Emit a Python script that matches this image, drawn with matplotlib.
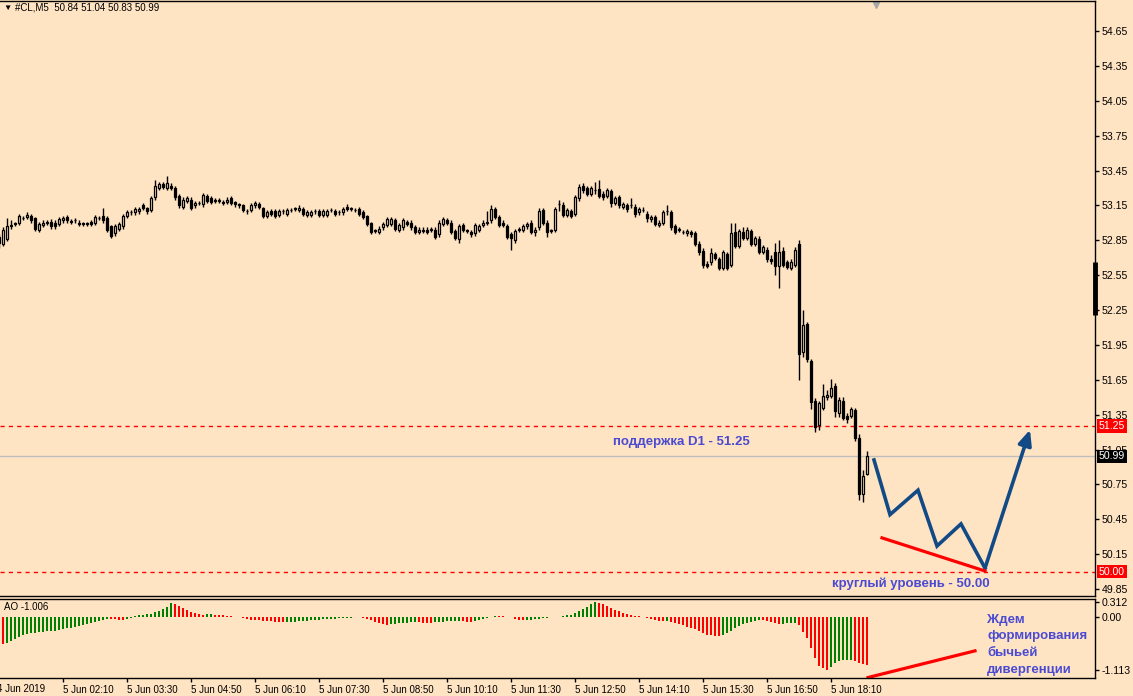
from matplotlib import pyplot as plt
from matplotlib import transforms
import numpy as np

# ---- data (CL, M5, 5 Jun 2019) ----
opens = [
    52.88, 52.82, 52.86, 52.97, 53.00, 53.00, 53.04, 53.05, 53.06, 53.04,
    52.94, 52.98, 53.00, 53.01, 53.00, 52.99, 53.02, 53.05, 53.01, 53.02,
    53.00, 53.00, 53.00, 53.01, 53.00, 53.04, 53.06, 53.04, 52.97, 52.91,
    52.95, 52.97, 53.06, 53.09, 53.09, 53.10, 53.15, 53.13, 53.11, 53.22,
    53.30, 53.33, 53.30, 53.32, 53.30, 53.23, 53.14, 53.19, 53.20, 53.15,
    53.17, 53.16, 53.23, 53.21, 53.19, 53.19, 53.18, 53.18, 53.21, 53.18,
    53.16, 53.15, 53.10, 53.11, 53.15, 53.16, 53.13, 53.06, 53.10, 53.10,
    53.07, 53.10, 53.08, 53.11, 53.12, 53.11, 53.12, 53.07, 53.07, 53.10,
    53.10, 53.07, 53.07, 53.11, 53.10, 53.09, 53.09, 53.14, 53.12, 53.11,
    53.12, 53.09, 53.06, 53.00, 52.93, 52.92, 52.96, 52.98, 52.99, 53.02,
    52.94, 52.96, 53.01, 53.00, 52.96, 52.92, 52.93, 52.94, 52.94, 52.94,
    52.90, 52.99, 53.02, 53.00, 52.93, 52.86, 52.98, 52.93, 52.92, 52.91,
    52.94, 52.98, 53.00, 53.02, 53.12, 53.05, 53.00, 52.97, 52.90, 52.85,
    52.94, 52.94, 52.97, 53.00, 52.92, 52.96, 53.11, 53.00, 52.93, 52.94,
    53.16, 53.15, 53.07, 53.10, 53.08, 53.21, 53.32, 53.30, 53.25, 53.28,
    53.29, 53.25, 53.23, 53.27, 53.17, 53.22, 53.14, 53.15, 53.15, 53.14,
    53.09, 53.11, 53.08, 53.03, 53.05, 52.98, 53.00, 53.10, 53.09, 52.97,
    52.94, 52.92, 52.91, 52.92, 52.91, 52.82, 52.76, 52.65, 52.66, 52.73,
    52.69, 52.61, 52.73, 52.64, 52.92, 52.80, 52.92, 52.87, 52.93, 52.82,
    52.86, 52.75, 52.77, 52.69, 52.75, 52.63, 52.76, 52.66, 52.61, 52.64,
    52.82, 51.89, 52.13, 51.81, 51.47, 51.26, 51.41, 51.50, 51.51, 51.60,
    51.36, 51.47, 51.34, 51.34, 51.39, 51.15, 50.67, 50.84]

closes = [
    52.83, 52.94, 52.97, 52.98, 52.99, 53.06, 53.04, 53.07, 53.02, 52.95,
    52.99, 53.00, 53.00, 52.97, 52.97, 53.03, 53.04, 53.02, 53.01, 53.02,
    52.99, 52.99, 52.99, 52.99, 53.05, 53.04, 53.02, 52.94, 52.89, 52.97,
    52.99, 53.06, 53.09, 53.09, 53.12, 53.12, 53.13, 53.10, 53.21, 53.32,
    53.33, 53.31, 53.34, 53.30, 53.22, 53.15, 53.20, 53.21, 53.13, 53.17,
    53.17, 53.24, 53.19, 53.18, 53.19, 53.19, 53.17, 53.20, 53.17, 53.16,
    53.15, 53.11, 53.10, 53.15, 53.17, 53.14, 53.06, 53.09, 53.08, 53.06,
    53.10, 53.10, 53.11, 53.11, 53.12, 53.13, 53.08, 53.09, 53.09, 53.10,
    53.07, 53.10, 53.10, 53.11, 53.08, 53.09, 53.12, 53.12, 53.12, 53.11,
    53.08, 53.05, 52.99, 52.92, 52.93, 52.95, 52.99, 53.03, 53.03, 52.95,
    52.98, 53.02, 52.99, 52.96, 52.92, 52.94, 52.93, 52.92, 52.94, 52.88,
    53.00, 53.03, 53.00, 52.92, 52.87, 52.97, 52.94, 52.93, 52.90, 52.98,
    52.97, 53.00, 53.00, 53.12, 53.05, 52.98, 52.98, 52.88, 52.87, 52.93,
    52.94, 52.97, 52.99, 52.92, 52.94, 53.10, 53.00, 52.92, 52.93, 53.12,
    53.16, 53.07, 53.11, 53.06, 53.22, 53.31, 53.28, 53.25, 53.30, 53.28,
    53.23, 53.22, 53.28, 53.17, 53.21, 53.15, 53.16, 53.12, 53.15, 53.08,
    53.12, 53.11, 53.04, 53.05, 52.99, 53.00, 53.09, 53.10, 52.96, 52.92,
    52.94, 52.92, 52.93, 52.90, 52.82, 52.75, 52.64, 52.63, 52.74, 52.70,
    52.61, 52.75, 52.61, 52.91, 52.80, 52.93, 52.87, 52.94, 52.82, 52.87,
    52.75, 52.79, 52.69, 52.67, 52.63, 52.75, 52.64, 52.62, 52.66, 52.77,
    51.87, 52.12, 51.83, 51.46, 51.24, 51.45, 51.51, 51.52, 51.58, 51.38,
    51.48, 51.32, 51.31, 51.40, 51.15, 50.67, 50.82, 50.99]

highs = [
    52.90, 52.96, 53.04, 53.02, 53.01, 53.08, 53.06, 53.09, 53.08, 53.05,
    53.01, 53.02, 53.02, 53.03, 53.02, 53.05, 53.06, 53.07, 53.03, 53.04,
    53.02, 53.01, 53.01, 53.02, 53.07, 53.06, 53.125, 53.06, 52.98, 52.99,
    53.01, 53.08, 53.11, 53.11, 53.14, 53.14, 53.17, 53.14, 53.23, 53.37,
    53.35, 53.35, 53.40, 53.34, 53.32, 53.25, 53.22, 53.23, 53.22, 53.19,
    53.19, 53.26, 53.25, 53.23, 53.21, 53.21, 53.20, 53.22, 53.23, 53.19,
    53.17, 53.16, 53.12, 53.17, 53.19, 53.18, 53.14, 53.11, 53.12, 53.12,
    53.12, 53.12, 53.13, 53.13, 53.14, 53.15, 53.14, 53.11, 53.11, 53.12,
    53.12, 53.12, 53.12, 53.13, 53.12, 53.11, 53.14, 53.16, 53.14, 53.13,
    53.14, 53.11, 53.07, 53.01, 52.95, 52.97, 53.01, 53.05, 53.05, 53.04,
    53.00, 53.04, 53.02, 53.02, 52.98, 52.96, 52.96, 52.96, 52.96, 52.96,
    53.02, 53.05, 53.04, 53.02, 52.95, 52.99, 53.00, 52.95, 52.94, 53.00,
    52.99, 53.02, 53.10, 53.15, 53.14, 53.07, 53.02, 52.99, 52.92, 52.95,
    52.96, 52.99, 53.01, 53.02, 52.96, 53.13, 53.13, 53.02, 52.95, 53.14,
    53.20, 53.18, 53.13, 53.12, 53.24, 53.33, 53.34, 53.32, 53.32, 53.35,
    53.37, 53.27, 53.30, 53.29, 53.23, 53.24, 53.18, 53.17, 53.21, 53.16,
    53.14, 53.14, 53.10, 53.07, 53.07, 53.02, 53.11, 53.15, 53.11, 52.99,
    52.96, 52.94, 52.95, 52.94, 52.93, 52.84, 52.78, 52.67, 52.78, 52.75,
    52.71, 52.77, 52.75, 53.00, 53.00, 52.95, 52.96, 52.96, 52.95, 52.89,
    52.89, 52.81, 52.79, 52.72, 52.83, 52.85, 52.79, 52.68, 52.69, 52.79,
    52.85, 52.25, 52.15, 51.83, 51.49, 51.47, 51.61, 51.56, 51.66, 51.62,
    51.50, 51.50, 51.36, 51.42, 51.41, 51.18, 50.87, 51.04]

lows = [
    52.78, 52.80, 52.84, 52.95, 52.97, 52.98, 53.02, 53.03, 53.00, 52.93,
    52.92, 52.96, 52.98, 52.95, 52.95, 52.97, 53.00, 53.00, 52.99, 53.00,
    52.97, 52.97, 52.97, 52.97, 52.98, 53.02, 53.00, 52.92, 52.866, 52.89,
    52.93, 52.95, 53.04, 53.07, 53.07, 53.08, 53.11, 53.08, 53.09, 53.20,
    53.28, 53.29, 53.28, 53.28, 53.20, 53.13, 53.12, 53.17, 53.11, 53.13,
    53.15, 53.14, 53.17, 53.16, 53.17, 53.17, 53.15, 53.16, 53.15, 53.14,
    53.13, 53.09, 53.08, 53.09, 53.13, 53.12, 53.04, 53.04, 53.06, 53.04,
    53.05, 53.08, 53.06, 53.09, 53.10, 53.09, 53.06, 53.05, 53.05, 53.08,
    53.05, 53.05, 53.05, 53.09, 53.06, 53.07, 53.07, 53.10, 53.10, 53.09,
    53.06, 53.03, 52.97, 52.90, 52.91, 52.90, 52.94, 52.96, 52.97, 52.93,
    52.92, 52.94, 52.97, 52.94, 52.90, 52.90, 52.91, 52.90, 52.92, 52.86,
    52.88, 52.97, 52.98, 52.90, 52.85, 52.83, 52.92, 52.91, 52.88, 52.89,
    52.92, 52.96, 52.98, 53.00, 53.03, 52.96, 52.96, 52.86, 52.77, 52.83,
    52.92, 52.92, 52.95, 52.90, 52.89, 52.94, 52.98, 52.88, 52.91, 52.92,
    53.10, 53.05, 53.05, 53.04, 53.06, 53.19, 53.26, 53.23, 53.23, 53.25,
    53.21, 53.20, 53.21, 53.14, 53.15, 53.13, 53.12, 53.09, 53.13, 53.05,
    53.07, 53.09, 53.01, 53.01, 52.97, 52.96, 52.98, 53.07, 52.94, 52.90,
    52.92, 52.90, 52.89, 52.88, 52.80, 52.72, 52.61, 52.61, 52.64, 52.68,
    52.59, 52.59, 52.59, 52.62, 52.78, 52.78, 52.85, 52.85, 52.80, 52.80,
    52.73, 52.73, 52.66, 52.65, 52.55, 52.44, 52.62, 52.60, 52.59, 52.62,
    51.65, 51.85, 51.80, 51.40, 51.20, 51.22, 51.39, 51.48, 51.49, 51.33,
    51.33, 51.30, 51.28, 51.32, 51.12, 50.62, 50.60, 50.83]

# Awesome Oscillator values, one per candle
ao = [
    -0.53, -0.56, -0.54, -0.51, -0.46, -0.42, -0.38, -0.36, -0.34, -0.33,
    -0.32, -0.31, -0.30, -0.295, -0.285, -0.275, -0.255, -0.24, -0.225, -0.205,
    -0.185, -0.17, -0.155, -0.135, -0.11, -0.085, -0.055, -0.04, -0.045, -0.05,
    -0.055, -0.06, -0.035, -0.012, 0.015, 0.035, 0.045, 0.055, 0.07, 0.095,
    0.13, 0.165, 0.21, 0.29, 0.27, 0.235, 0.195, 0.155, 0.115, 0.08,
    0.055, 0.05, 0.053, 0.056, 0.052, 0.048, 0.035, 0.026, 0.017, 0.009,
    -0.005, -0.02, -0.04, -0.055, -0.065, -0.07, -0.075, -0.08, -0.085, -0.095,
    -0.10, -0.11, -0.105, -0.10, -0.095, -0.09, -0.08, -0.075, -0.065, -0.06,
    -0.055, -0.05, -0.045, -0.04, -0.035, -0.03, -0.025, -0.02, -0.015, -0.01,
    -0.008, -0.02, -0.04, -0.07, -0.10, -0.13, -0.155, -0.165, -0.155, -0.145,
    -0.135, -0.125, -0.12, -0.115, -0.11, -0.115, -0.12, -0.125, -0.135, -0.115,
    -0.105, -0.095, -0.09, -0.085, -0.08, -0.075, -0.085, -0.095, -0.10, -0.085,
    -0.065, -0.045, -0.027, -0.009, 0.026, 0.024, 0.022, 0.009, -0.01, -0.04,
    -0.06, -0.07, -0.065, -0.06, -0.05, -0.04, -0.03, -0.02, -0.01, 0.0,
    0.009, 0.026, 0.035, 0.044, 0.09, 0.13, 0.17, 0.22, 0.27, 0.312,
    0.30, 0.27, 0.23, 0.19, 0.15, 0.12, 0.09, 0.065, 0.045, 0.028,
    0.015, 0.005, -0.02, -0.04, -0.06, -0.08, -0.09, -0.085, -0.10, -0.12,
    -0.14, -0.17, -0.20, -0.23, -0.26, -0.30, -0.34, -0.37, -0.38, -0.39,
    -0.40, -0.38, -0.34, -0.29, -0.24, -0.19, -0.15, -0.12, -0.10, -0.08,
    -0.06, -0.07, -0.08, -0.10, -0.12, -0.15, -0.14, -0.13, -0.125, -0.12,
    -0.16, -0.32, -0.45, -0.64, -0.86, -1.02, -1.08, -1.113, -1.04, -0.97,
    -0.93, -0.91, -0.90, -0.895, -0.92, -0.96, -0.99, -1.006]

price_ticks = [49.85, 50.15, 50.45, 50.75, 51.05, 51.35, 51.65, 51.95,
               52.25, 52.55, 52.85, 53.15, 53.45, 53.75, 54.05, 54.35, 54.65]
ao_ticks = [-1.113, 0.0, 0.312]
ao_tick_labels = ['-1.113', '0.00', '0.312']

first_date_label = '4 Jun 2019'
time_tick_bars = [16, 32, 48, 64, 80, 96, 112, 128, 144, 160, 176, 192, 208]
time_tick_labels = ['5 Jun 02:10', '5 Jun 03:30', '5 Jun 04:50',
                    '5 Jun 06:10', '5 Jun 07:30', '5 Jun 08:50', '5 Jun 10:10',
                    '5 Jun 11:30', '5 Jun 12:50', '5 Jun 14:10', '5 Jun 15:30',
                    '5 Jun 16:50', '5 Jun 18:10']

support_level = 51.25
round_level = 50.00

# hand drawn forecast (bar index, price)
zigzag_x = [218.75, 222.75, 229.75, 234.5, 240.5, 246.5, 257.75]
zigzag_y = [50.96, 50.49, 50.70, 50.22, 50.41, 50.03, 51.22]
div_price_x = [220.75, 246.5]
div_price_y = [50.29, 50.005]
div_ao_x = [217.25, 244.0]
div_ao_y = [-1.27, -0.71]

BG = '#FFE4C4'
NOTE = '#4B4BD2'
ARROW = '#114A85'

plt.rcParams['font.family'] = ['Liberation Sans', 'DejaVu Sans']

n = len(closes)
x = np.arange(n)
o = np.array(opens)
c = np.array(closes)
h = np.array(highs)
l = np.array(lows)

W, H = 1133, 696
fig = plt.figure(figsize=(W / 100, H / 100), dpi=100, facecolor=BG)
right = 1095 / W
ax = fig.add_axes([0, 1 - 596 / H, right, 595 / H], facecolor=BG)
ax_ao = fig.add_axes([0, 1 - 678 / H, right, 79 / H], facecolor=BG, sharex=ax)

xlim = (0.25, 0.25 + 1095 / 4)
ax.set_xlim(*xlim)
ax.set_ylim(49.79, 54.908)
ax_ao.set_ylim(-1.28, 0.378)

for a in (ax, ax_ao):
    a.spines['left'].set_visible(False)
    for s in ('top', 'right', 'bottom'):
        a.spines[s].set_color('black')
        a.spines[s].set_linewidth(1)
    a.yaxis.tick_right()
    a.tick_params(axis='y', direction='out', length=3, width=1, pad=2,
                  labelsize=7.6, colors='black')

# candles
ax.vlines(x, l, h, color='black', lw=1, zorder=2)
bull = c >= o
body_h = np.maximum(np.abs(c - o), 0.004)
ax.bar(x, body_h, bottom=np.minimum(o, c), width=0.62,
       color=np.where(bull, BG, 'black'), edgecolor='black', lw=0.9, zorder=3)

# levels
ax.axhline(support_level, color='red', lw=1, ls=(0, (3, 3)), zorder=1)
ax.axhline(round_level, color='red', lw=1, ls=(0, (3, 3)), zorder=1)
ax.axhline(closes[-1], color='#BDBDBD', lw=1, zorder=1)

ax.set_yticks(price_ticks)
ax.set_yticklabels(['%.2f' % p for p in price_ticks])
ax.tick_params(axis='x', bottom=False, labelbottom=False)

tr = transforms.blended_transform_factory(ax.transAxes, ax.transData)
for val, bg in ((support_level, 'red'), (closes[-1], 'black'), (round_level, 'red')):
    ax.text(1.0 + 4 / 1095, val, '%.2f' % val, transform=tr, fontsize=7.6,
            color='white', va='center', ha='left', clip_on=False, zorder=10,
            bbox=dict(boxstyle='square,pad=0.18', fc=bg, ec='none'))
# scroll mark on the price scale
ax.plot([1.0, 1.0], [52.21, 52.66], transform=tr, color='black', lw=3.5,
        solid_capstyle='butt', clip_on=False, zorder=6)
# chart shift marker
ax.plot([n + 1.2], [0.994], marker='v', ms=5, color='#A8A8A8',
        transform=transforms.blended_transform_factory(ax.transData, ax.transAxes),
        clip_on=False)

# forecast path + divergence lines
ax.plot(zigzag_x[:-1], zigzag_y[:-1], color=ARROW, lw=2.6,
        solid_joinstyle='miter', zorder=5)
ax.annotate('', xy=(zigzag_x[-1], zigzag_y[-1]),
            xytext=(zigzag_x[-2], zigzag_y[-2]),
            arrowprops=dict(arrowstyle='-|>,head_length=0.9,head_width=0.4',
                            color=ARROW, lw=2.6, shrinkA=0, shrinkB=0),
            zorder=5)
ax.plot(div_price_x, div_price_y, color='red', lw=2.3, zorder=5)

ax.text(170.5, 51.115, 'поддержка D1 - 51.25', color=NOTE, fontsize=9.5,
        fontweight='bold', ha='center', va='center')
ax.text(228, 49.893, 'круглый уровень - 50.00', color=NOTE, fontsize=9.5,
        fontweight='bold', ha='center', va='center')

# AO histogram, green when rising
ao_arr = np.array(ao)
rising = np.r_[False, ao_arr[1:] > ao_arr[:-1]]
ax_ao.bar(x, ao_arr, width=0.72, color=np.where(rising, '#008000', '#FF0000'))
ax_ao.plot(div_ao_x, div_ao_y, color='red', lw=2.3)
ax_ao.set_yticks(ao_ticks)
ax_ao.set_yticklabels(ao_tick_labels)
ax_ao.set_xticks(time_tick_bars)
ax_ao.set_xticklabels(time_tick_labels, ha='left')
ax_ao.tick_params(axis='x', direction='out', length=3, width=1, pad=2,
                  labelsize=7, colors='black')
ax_ao.set_xlim(*xlim)
# leftmost date label sits on the cut-off first tick
ax_ao.text(-0.4, -0.14, first_date_label, fontsize=7, ha='left', va='center',
           transform=transforms.blended_transform_factory(ax_ao.transData, ax_ao.transAxes),
           clip_on=False)

fig.text(3 / W, 1 - 8 / H, '▼', fontsize=6, va='center', ha='left')
fig.text(15 / W, 1 - 8 / H, '#CL,M5  %.2f %.2f %.2f %.2f' % (opens[-1], highs[-1], lows[-1], closes[-1]),
         fontsize=7, va='center', ha='left')
fig.text(4 / W, 1 - 607 / H, 'AO %.3f' % ao[-1], fontsize=7, va='center', ha='left')
fig.text(987 / W, 1 - 614 / H, 'Ждем\nформирования\nбычьей\nдивергенции',
         color=NOTE, fontsize=9.5, fontweight='bold', va='top', ha='left',
         linespacing=1.5)

fig.savefig('out.png', dpi=100, facecolor=BG)
